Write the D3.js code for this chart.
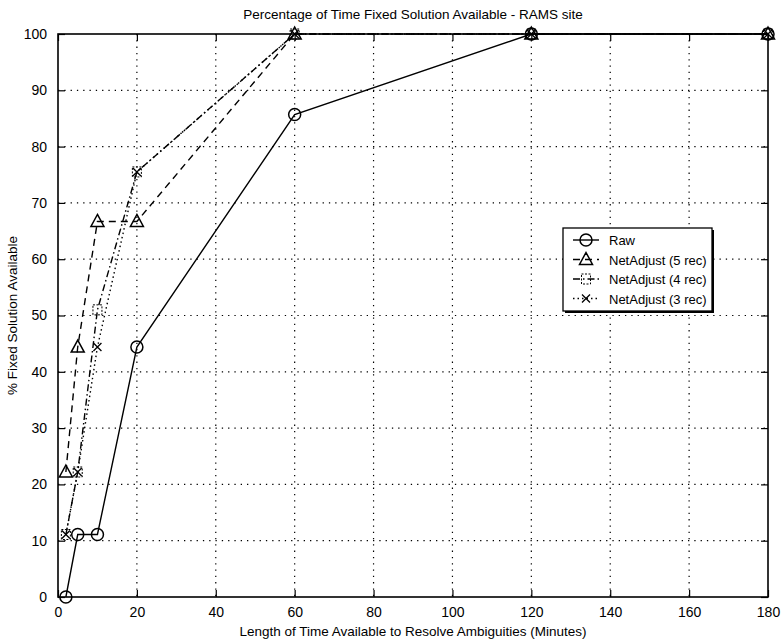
<!DOCTYPE html>
<html>
<head>
<meta charset="utf-8">
<script src="https://cdn.jsdelivr.net/npm/d3@7"></script>
<style>
  body { margin: 0; background: #fff; }
  svg text { font-family: "Liberation Sans", Arial, sans-serif; fill: #000; }
</style>
</head>
<body>
<div id="chart"></div>
<script>
// data
const minutes = [2, 5, 10, 20, 60, 120, 180];
const raw = [0, 11.1, 11.1, 44.4, 85.7, 100, 100];
const net5 = [22.2, 44.4, 66.7, 66.7, 100, 100, 100];
const net4 = [11.1, 22.2, 51, 75.5, 100, 100, 100];
const net3 = [11.1, 22.2, 44.4, 75.5, 100, 100, 100];
const seriesNames = ['Raw', 'NetAdjust (5 rec)', 'NetAdjust (4 rec)', 'NetAdjust (3 rec)'];
const xTicks = [0, 20, 40, 60, 80, 100, 120, 140, 160, 180];
const yTicks = [0, 10, 20, 30, 40, 50, 60, 70, 80, 90, 100];

const W = 782, H = 641;
const m = { top: 34, right: 14, bottom: 44, left: 58 };
const iw = W - m.left - m.right, ih = H - m.top - m.bottom;

const svg = d3.select('#chart').append('svg')
  .attr('width', W).attr('height', H);
const g = svg.append('g').attr('transform', `translate(${m.left},${m.top})`);

const x = d3.scaleLinear().domain([0, 180]).range([0, iw]);
const y = d3.scaleLinear().domain([0, 100]).range([ih, 0]);

// dotted grid
g.selectAll('.vg').data(xTicks.slice(1, -1)).enter().append('line')
  .attr('x1', d => x(d)).attr('x2', d => x(d)).attr('y1', 0).attr('y2', ih)
  .attr('stroke', '#000').attr('stroke-width', 1.2).attr('stroke-dasharray', '1.3,5');
g.selectAll('.hg').data(yTicks.slice(1, -1)).enter().append('line')
  .attr('x1', 0).attr('x2', iw).attr('y1', d => y(d)).attr('y2', d => y(d))
  .attr('stroke', '#000').attr('stroke-width', 1.2).attr('stroke-dasharray', '1.3,5');

// axes with inward ticks on all sides
const fs = '14px';
const xb = g.append('g').attr('transform', `translate(0,${ih})`)
  .call(d3.axisBottom(x).tickValues(xTicks).tickSize(-7).tickPadding(10));
const xt = g.append('g').call(d3.axisTop(x).tickValues(xTicks).tickSize(-7).tickFormat(''));
const yl = g.append('g').call(d3.axisLeft(y).tickValues(yTicks).tickSize(-7).tickPadding(11));
const yr = g.append('g').attr('transform', `translate(${iw},0)`)
  .call(d3.axisRight(y).tickValues(yTicks).tickSize(-7).tickFormat(''));
[xb, xt, yl, yr].forEach(a => {
  a.select('.domain').remove();
  a.selectAll('line').attr('stroke', '#000').attr('stroke-width', 1.2);
  a.selectAll('text').style('font-size', fs).attr('fill', '#000');
});
g.append('rect').attr('width', iw).attr('height', ih)
  .attr('fill', 'none').attr('stroke', '#000').attr('stroke-width', 1.6);

// series
const styles = [
  { vals: raw, dash: null, marker: 'circle' },
  { vals: net5, dash: '7,5', marker: 'triangle' },
  { vals: net4, dash: '7,3,1.5,3', marker: 'square' },
  { vals: net3, dash: '1.5,3', marker: 'cross' }
];

function drawMarker(sel, type, cx, cy) {
  const s = sel.append('g').attr('transform', `translate(${cx},${cy})`);
  if (type === 'circle') {
    s.append('circle').attr('r', 6).attr('fill', 'none').attr('stroke', '#000').attr('stroke-width', 1.5);
  } else if (type === 'triangle') {
    s.append('path').attr('d', 'M0,-7L6.5,5L-6.5,5Z')
      .attr('fill', 'none').attr('stroke', '#000').attr('stroke-width', 1.5);
  } else if (type === 'square') {
    s.append('rect').attr('x', -4.5).attr('y', -5).attr('width', 9).attr('height', 10)
      .attr('fill', 'none').attr('stroke', '#000').attr('stroke-width', 1)
      .attr('stroke-dasharray', '2,1.5');
  } else {
    s.append('path').attr('d', 'M-4,-4L4,4M-4,4L4,-4')
      .attr('fill', 'none').attr('stroke', '#000').attr('stroke-width', 1.3);
  }
}

const line = d3.line().x((d, i) => x(minutes[i])).y(d => y(d));
styles.slice().reverse().forEach(st => {
  g.append('path').datum(st.vals).attr('d', line)
    .attr('fill', 'none').attr('stroke', '#000').attr('stroke-width', 1.4)
    .attr('stroke-dasharray', st.dash);
  st.vals.forEach((v, i) => drawMarker(g, st.marker, x(minutes[i]), y(v)));
});

// legend
const lg = svg.append('g').attr('transform', 'translate(563,228)');
lg.append('rect').attr('x', 2).attr('y', 2).attr('width', 149).attr('height', 83).attr('fill', '#000');
lg.append('rect').attr('width', 149).attr('height', 83)
  .attr('fill', '#fff').attr('stroke', '#000').attr('stroke-width', 1.3);
seriesNames.forEach((name, i) => {
  const ly = 12 + i * 19.5;
  const st = styles[i];
  lg.append('line').attr('x1', 10).attr('x2', 36).attr('y1', ly).attr('y2', ly)
    .attr('stroke', '#000').attr('stroke-width', 1.4).attr('stroke-dasharray', st.dash);
  drawMarker(lg, st.marker, 23, ly);
  lg.append('text').attr('x', 46).attr('y', ly + 5).style('font-size', '13px').text(name);
});

// titles
svg.append('text').attr('x', m.left + iw / 2).attr('y', 19).attr('text-anchor', 'middle')
  .style('font-size', '13.5px').text('Percentage of Time Fixed Solution Available - RAMS site');
svg.append('text').attr('x', m.left + iw / 2).attr('y', 636).attr('text-anchor', 'middle')
  .style('font-size', '13.5px').text('Length of Time Available to Resolve Ambiguities (Minutes)');
svg.append('text').attr('transform', `translate(17,${m.top + ih / 2}) rotate(-90)`)
  .attr('text-anchor', 'middle').style('font-size', '13.5px').text('% Fixed Solution Available');
</script>
</body>
</html>
